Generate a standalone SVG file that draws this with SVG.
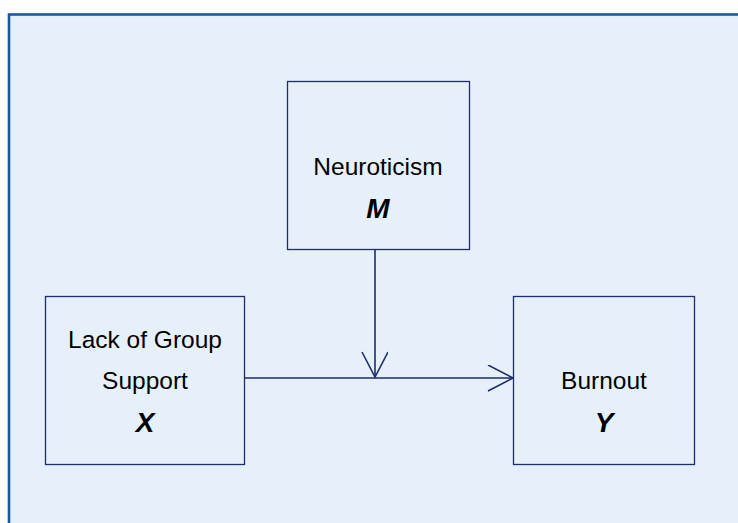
<svg xmlns="http://www.w3.org/2000/svg" width="738" height="523" viewBox="0 0 738 523">
<style>
.box{fill:#e6f0fa;stroke:#1f2d6b;stroke-width:1.3}
.t{font-family:"Liberation Sans",Arial,sans-serif;font-size:24.5px;fill:#000;text-anchor:middle}
.v{font-weight:bold;font-style:italic;font-size:28px}
.c{stroke:#1f2d6b;stroke-width:1.6;fill:none}
</style>
<defs>
<marker id="ah" markerWidth="30" markerHeight="30" refX="26" refY="13" orient="auto" markerUnits="userSpaceOnUse">
<path d="M1,0 L26,13 L1,26" fill="none" stroke="#1f2d6b" stroke-width="1.6"/>
</marker>
</defs>
<rect x="9" y="14.5" width="740" height="520" fill="#e6f0fa" stroke="#1a5a9c" stroke-width="2.6"/>
<g id="connectors">
<line class="c" x1="245" y1="378" x2="513" y2="378" marker-end="url(#ah)"/>
<line class="c" x1="375" y1="250" x2="375" y2="377" marker-end="url(#ah)"/>
</g>
<g id="M">
<rect class="box" x="287.5" y="81.5" width="182" height="168"/>
<text class="t" x="378" y="175">Neuroticism</text>
<text class="t v" x="378" y="218">M</text>
</g>
<g id="X">
<rect class="box" x="45.5" y="296.5" width="199" height="168"/>
<text class="t" x="145" y="348">Lack of Group</text>
<text class="t" x="145" y="389">Support</text>
<text class="t v" x="145" y="432">X</text>
</g>
<g id="Y">
<rect class="box" x="513.5" y="296.5" width="181" height="168"/>
<text class="t" x="604" y="389">Burnout</text>
<text class="t v" x="604" y="432">Y</text>
</g>
</svg>
